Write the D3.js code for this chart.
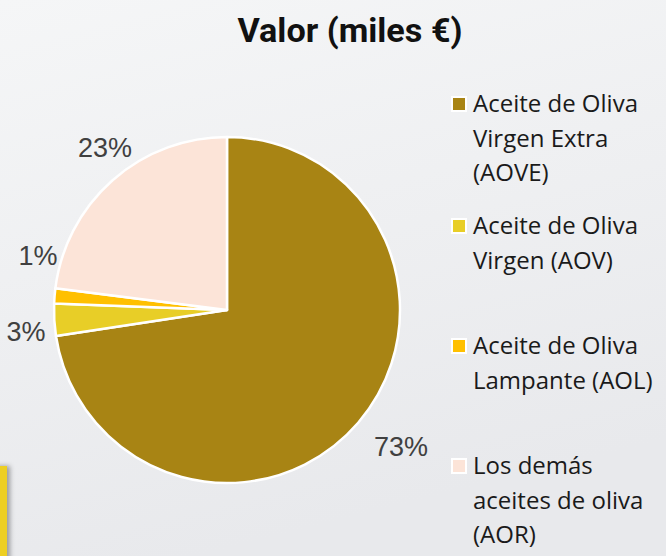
<!DOCTYPE html>
<html><head><meta charset="utf-8">
<script src="https://cdn.jsdelivr.net/npm/d3@7"></script>
<style>html,body{margin:0;padding:0;overflow:hidden;}</style>
</head><body>
<svg id="c" width="666" height="556"></svg>
<script>
const categories = ["Aceite de Oliva Virgen Extra (AOVE)", "Aceite de Oliva Virgen (AOV)", "Aceite de Oliva Lampante (AOL)", "Los demás aceites de oliva (AOR)"];
const legendLines = [["Aceite de Oliva","Virgen Extra","(AOVE)"],["Aceite de Oliva","Virgen (AOV)"],["Aceite de Oliva","Lampante (AOL)"],["Los demás","aceites de oliva","(AOR)"]];
const values = [72.6, 3.0, 1.4, 23.0];
const colors = ["#A88414", "#E8CE27", "#FFC000", "#FCE4D8"];
const title = "Valor (miles €)";

const svg = d3.select("#c");
const defs = svg.append("defs");
const g = defs.append("linearGradient").attr("id","bg").attr("x1",0).attr("y1",0).attr("x2",0.3).attr("y2",1);
g.append("stop").attr("offset","0%").attr("stop-color","#F5F6F7");
g.append("stop").attr("offset","100%").attr("stop-color","#E8E9EC");
const f = defs.append("filter").attr("id","sh").attr("x","-50%").attr("y","-10%").attr("width","300%").attr("height","130%");
f.append("feDropShadow").attr("dx",3).attr("dy",0).attr("stdDeviation",2.5).attr("flood-color","#000").attr("flood-opacity",0.35);

svg.append("rect").attr("width",666).attr("height",556).attr("fill","url(#bg)");
svg.append("rect").attr("x",-10).attr("y",466).attr("width",17).attr("height",100).attr("fill","#EDCF23").attr("filter","url(#sh)");

svg.append("text").attr("x",350).attr("y",42).attr("text-anchor","middle")
  .attr("font-family","Roboto, 'Open Sans', sans-serif").attr("font-weight","bold").attr("font-size",33)
  .attr("textLength",225).attr("lengthAdjust","spacingAndGlyphs")
  .attr("fill","#111").text(title);

const cx = 227, cy = 310, r = 173;
const pie = d3.pie().sort(null).value(d => d)(values);
const arc = d3.arc().innerRadius(0).outerRadius(r);
const gp = svg.append("g").attr("transform",`translate(${cx},${cy})`);
gp.selectAll("path").data(pie).join("path")
  .attr("d",arc).attr("fill",(d,i)=>colors[i]).attr("stroke","#fff").attr("stroke-width",2.5).attr("stroke-linejoin","round");

const labelPos = [[401,456],[26,341],[38,265],[105,157]];
svg.selectAll("text.lbl").data(pie).join("text").attr("class","lbl")
  .attr("x",(d,i)=>labelPos[i][0]).attr("y",(d,i)=>labelPos[i][1])
  .attr("text-anchor","middle").attr("font-family","'Liberation Sans', Arial, sans-serif")
  .attr("font-size",27).attr("fill","#404040")
  .text(d => Math.round(d.data) + "%");

const legY = [104, 226, 346, 466];
const lg = svg.selectAll("g.leg").data(categories).join("g").attr("class","leg")
  .attr("transform",(d,i)=>`translate(451,${legY[i]})`);
lg.append("rect").attr("x",0).attr("y",-8).attr("width",16).attr("height",16).attr("fill","#fff");
lg.append("rect").attr("x",2).attr("y",-6).attr("width",12).attr("height",12).attr("fill",(d,i)=>colors[i]);
lg.each(function(d,i){
  const t = d3.select(this).append("text").attr("x",22).attr("y",0)
    .attr("font-family","'Open Sans', Roboto, sans-serif").attr("font-size",24).attr("fill","#1a1a1a");
  legendLines[i].forEach((ln,j)=>{
    t.append("tspan").attr("x",22).attr("y",j*34.5+8).text(ln);
  });
});
</script>
</body></html>
